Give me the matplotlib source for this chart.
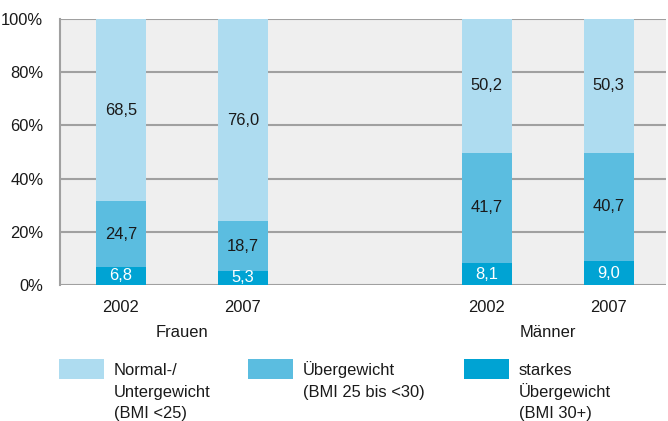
import matplotlib
matplotlib.use("Agg")
import matplotlib.pyplot as plt
from matplotlib.patches import Rectangle
import numpy as np

# data
groups = ["Frauen", "Männer"]
years = ["2002", "2007"]
normal = [68.5, 76.0, 50.2, 50.3]
ueber = [24.7, 18.7, 41.7, 40.7]
starkes = [6.8, 5.3, 8.1, 9.0]
series_labels = ["Normal-/\nUntergewicht\n(BMI <25)",
                 "Übergewicht\n(BMI 25 bis <30)",
                 "starkes\nÜbergewicht\n(BMI 30+)"]
colors = ["#AEDCF0", "#5BBDE0", "#00A3D3"]

plt.rcParams["font.family"] = ["Liberation Sans", "DejaVu Sans"]
FS = 11.9
W, H = 668, 421

fig = plt.figure(figsize=(W / 100, H / 100), dpi=100)
ax = fig.add_axes([60 / W, (H - 285) / H, 606 / W, 266 / H])
ax.set_facecolor("#EFEFEF")

# x positions: two years per group, one empty slot between groups
x = np.array([g * (len(years) + 1) + i for g in range(len(groups)) for i in range(len(years))])
width = 0.41

bottom = np.zeros(len(x))
stack = [starkes, ueber, normal]
stack_colors = [colors[2], colors[1], colors[0]]
text_colors = ["white", "#1a1a1a", "#1a1a1a"]
for vals, col, tcol in zip(stack, stack_colors, text_colors):
    vals = np.array(vals)
    ax.bar(x, vals, width, bottom=bottom, color=col, zorder=3, linewidth=0)
    for xi, b, v in zip(x, bottom, vals):
        ax.text(xi, b + v / 2, f"{v:.1f}".replace(".", ","), ha="center", va="center",
                color=tcol, fontsize=FS, zorder=4)
    bottom += vals

ax.set_ylim(0, 100)
ax.set_xlim(-0.5, x[-1] + 0.47)
ax.set_yticks(range(0, 101, 20))
ax.set_yticklabels([f"{v}%" for v in range(0, 101, 20)], fontsize=FS, color="#1a1a1a")
ax.yaxis.grid(True, color="#A0A0A0", linewidth=1.5, zorder=1)
ax.set_axisbelow(True)
ax.tick_params(axis="y", length=0, pad=12)
ax.set_xticks(x)
ax.set_xticklabels(years * len(groups), fontsize=FS, color="#1a1a1a")
ax.tick_params(axis="x", length=0, pad=11)
for s in ["top", "right", "bottom"]:
    ax.spines[s].set_visible(False)
ax.spines["left"].set_color("#A0A0A0")
ax.spines["left"].set_linewidth(1.5)

for g, name in enumerate(groups):
    cx = x[g * len(years):(g + 1) * len(years)].mean()
    ax.annotate(name, xy=(cx, 0), xycoords=("data", "axes fraction"),
                xytext=(0, -34), textcoords="offset points",
                ha="center", va="center", fontsize=FS, color="#1a1a1a")

# legend, drawn by hand so the swatch sits on the first text line
# and every line has the same spacing
leg_x = [59, 248, 464]
for lx, lab, col in zip(leg_x, series_labels, colors):
    fig.add_artist(Rectangle((lx / W, (H - 379) / H), 45 / W, 20 / H,
                             transform=fig.transFigure, color=col, linewidth=0))
    for k, line in enumerate(lab.split("\n")):
        fig.text((lx + 55) / W, (H - 375 - 21.5 * k) / H, line, ha="left",
                 va="baseline", fontsize=FS, color="#1a1a1a")

fig.savefig("out.png", dpi=100)
